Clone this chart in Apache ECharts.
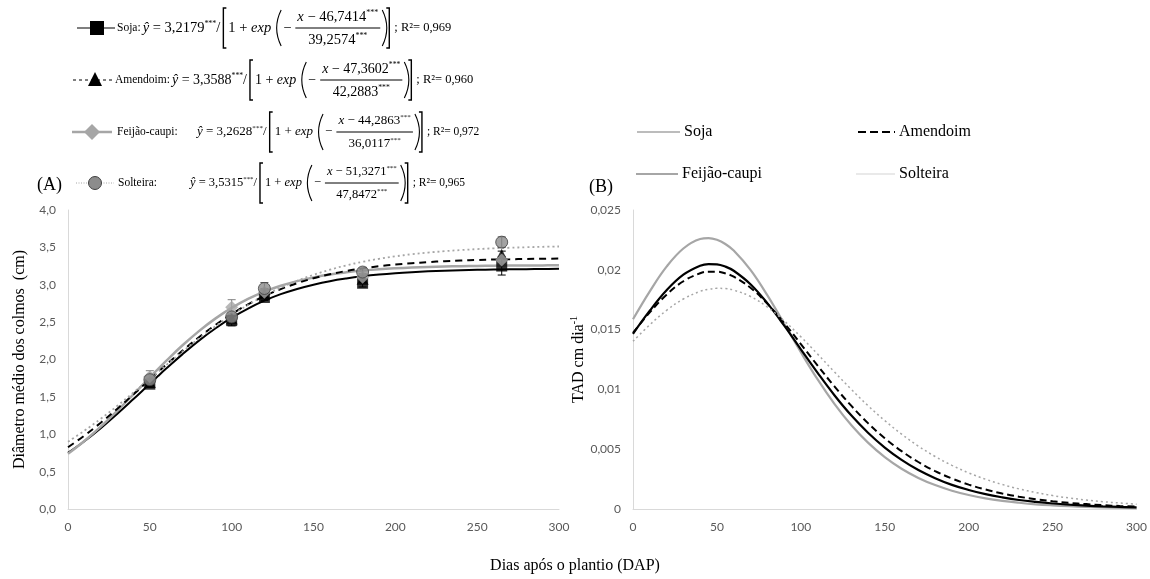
<!DOCTYPE html>
<html>
<head>
<meta charset="utf-8">
<script src="https://cdn.jsdelivr.net/npm/echarts@6/dist/echarts.min.js"></script>
<style>
  html, body { margin: 0; padding: 0; background: #fff; }
  #chart { width: 1150px; height: 579px; }
</style>
</head>
<body>
<div id="chart"></div>
<script>
// days on the x axis where the fitted curves were read
const X_DAYS = [0, 10, 20, 30, 40, 45, 50, 55, 60, 70, 80, 90, 100, 110, 120, 130, 140, 150,
  160, 170, 180, 190, 200, 210, 220, 230, 240, 250, 260, 270, 280, 290, 300]

// (A) fitted stem diameter, cm
const SOJA_FIT = [0.75, 0.906, 1.081, 1.271, 1.471, 1.573, 1.676, 1.778, 1.878, 2.072, 2.253, 2.415, 2.559, 2.682, 2.787, 2.874, 2.944, 3.001,
  3.048, 3.084, 3.113, 3.136, 3.154, 3.168, 3.179, 3.188, 3.195, 3.2, 3.204, 3.207, 3.209, 3.211, 3.213]
const AMENDOIM_FIT = [0.826, 0.982, 1.154, 1.339, 1.534, 1.633, 1.732, 1.831, 1.929, 2.119, 2.297, 2.461, 2.608, 2.737, 2.848, 2.942, 3.021, 3.086,
  3.14, 3.184, 3.219, 3.248, 3.27, 3.288, 3.303, 3.315, 3.324, 3.331, 3.337, 3.341, 3.345, 3.348, 3.35]
const FEIJAO_FIT = [0.738, 0.909, 1.101, 1.312, 1.535, 1.648, 1.761, 1.872, 1.982, 2.19, 2.38, 2.547, 2.69, 2.81, 2.908, 2.986, 3.049, 3.098,
  3.137, 3.166, 3.189, 3.207, 3.22, 3.23, 3.238, 3.244, 3.249, 3.252, 3.255, 3.257, 3.258, 3.259, 3.26]
const SOLTEIRA_FIT = [0.9, 1.047, 1.207, 1.378, 1.558, 1.649, 1.741, 1.833, 1.925, 2.106, 2.28, 2.443, 2.594, 2.73, 2.853, 2.96, 3.053, 3.133,
  3.201, 3.259, 3.307, 3.347, 3.38, 3.408, 3.43, 3.449, 3.464, 3.477, 3.487, 3.495, 3.502, 3.508, 3.512]

// (A) observed means and error half-lengths
const OBS_DAYS = [50, 100, 120, 180, 265]
const SOJA_OBS = [1.67, 2.52, 2.83, 3.02, 3.25]
const SOJA_ERR = [0.04, 0.07, 0.04, 0.05, 0.12]
const AMENDOIM_OBS = [1.7, 2.55, 2.88, 3.08, 3.4]
const AMENDOIM_ERR = [0.05, 0.05, 0.05, 0.05, 0.05]
const FEIJAO_OBS = [1.77, 2.7, 2.9, 3.1, 3.33]
const FEIJAO_ERR = [0.08, 0.1, 0.05, 0.05, 0.05]
const SOLTEIRA_OBS = [1.73, 2.57, 2.95, 3.17, 3.57]
const SOLTEIRA_ERR = [0.05, 0.05, 0.08, 0.05, 0.07]

// (B) growth rate, cm dia-1
const SOJA_TAD = [0.01465, 0.01658, 0.01829, 0.01959, 0.02034, 0.02048, 0.02046, 0.02027, 0.01992, 0.01879, 0.01721, 0.01535, 0.01335, 0.01138, 0.00951, 0.00783, 0.00638, 0.00514,
  0.00411, 0.00326, 0.00258, 0.00202, 0.00159, 0.00124, 0.00097, 0.00075, 0.00059, 0.00046, 0.00036, 0.00028, 0.00022, 0.00017, 0.00013]
const AMENDOIM_TAD = [0.01473, 0.01644, 0.01792, 0.01904, 0.01971, 0.01984, 0.01984, 0.0197, 0.01942, 0.0185, 0.01717, 0.01556, 0.01379, 0.01199, 0.01025, 0.00864, 0.00718, 0.00592,
  0.00484, 0.00393, 0.00317, 0.00255, 0.00204, 0.00163, 0.0013, 0.00103, 0.00082, 0.00065, 0.00051, 0.00041, 0.00032, 0.00025, 0.0002]
const FEIJAO_TAD = [0.01586, 0.0182, 0.02026, 0.02178, 0.02257, 0.02265, 0.02251, 0.02216, 0.02161, 0.01999, 0.01788, 0.01551, 0.01311, 0.01083, 0.00879, 0.00702, 0.00555, 0.00434,
  0.00337, 0.0026, 0.002, 0.00153, 0.00117, 0.00089, 0.00068, 0.00052, 0.00039, 0.0003, 0.00023, 0.00017, 0.00013, 0.0001, 0.00007]
const SOLTEIRA_TAD = [0.01402, 0.0154, 0.01661, 0.01756, 0.0182, 0.01837, 0.01845, 0.01843, 0.0183, 0.01777, 0.01689, 0.01574, 0.0144, 0.01295, 0.01146, 0.01001, 0.00864, 0.00739,
  0.00626, 0.00526, 0.00439, 0.00365, 0.00302, 0.00249, 0.00205, 0.00168, 0.00138, 0.00112, 0.00092, 0.00075, 0.00061, 0.0005, 0.0004]

// equation legend text
const EQ_LABELS = ['Soja:', 'Amendoim:', 'Feijão-caupi:', 'Solteira:']
const EQ_A = ['3,2179', '3,3588', '3,2628', '3,5315']
const EQ_B = ['46,7414', '47,3602', '44,2863', '51,3271']
const EQ_C = ['39,2574', '42,2883', '36,0117', '47,8472']
const EQ_R2 = ['0,969', '0,960', '0,972', '0,965']
const LEGEND_B = ['Soja', 'Amendoim', 'Feijão-caupi', 'Solteira']

const GRAY = '#a6a6a6'
const SERIF = '"Liberation Serif", "DejaVu Serif", serif'
const TICK_FONT = 'Lato'

// equation rows: centre line, label start, y-hat start, math size
const EQ_ROW_Y = [28, 80, 132, 183]
const EQ_LABEL_X = [117, 115, 117, 118]
const EQ_YHAT_X = [138, 167, 197, 190]
const EQ_SIZE = [14.5, 14, 13, 12.5]

const measure = document.createElement('canvas').getContext('2d')
function textWidth(str, size, italic) {
  measure.font = (italic ? 'italic ' : '') + size + 'px ' + SERIF
  return measure.measureText(str).width
}

function textEl(str, x, y, size, italic, align) {
  return {
    type: 'text', x, y,
    style: {
      text: str, fontFamily: SERIF, fontSize: size, fontStyle: italic ? 'italic' : 'normal',
      fill: '#000', verticalAlign: 'middle', align: align || 'left'
    }
  }
}

// pieces: [text, kind] kind: 'n' normal, 'i' italic, 's' superscript
function flow(els, pieces, x, y, size) {
  pieces.forEach(([str, kind]) => {
    const sz = kind === 's' ? size * 0.55 : size
    els.push(textEl(str, x, kind === 's' ? y - 4 : y, sz, kind === 'i'))
    x += textWidth(str, sz, kind === 'i')
  })
  return x
}
function piecesWidth(pieces, size) {
  return pieces.reduce((w, [str, kind]) => w + textWidth(str, kind === 's' ? size * 0.55 : size, kind === 'i'), 0)
}

function equation(i) {
  const cy = EQ_ROW_Y[i]
  const els = []
  const fs = EQ_SIZE[i]
  els.push(textEl(EQ_LABELS[i], EQ_LABEL_X[i], cy, 11.5))
  let x = Math.max(EQ_YHAT_X[i], EQ_LABEL_X[i] + textWidth(EQ_LABELS[i], 11.5) + 2)
  x = flow(els, [['ŷ', 'i'], [' = ' + EQ_A[i], 'n'], ['***', 's'], ['/', 'n']], x, cy, fs)
  x += 3
  const bracket = (bx, dir) => ({
    type: 'polyline',
    shape: { points: [[bx + 3 * dir, cy - 20], [bx, cy - 20], [bx, cy + 20], [bx + 3 * dir, cy + 20]] },
    style: { stroke: '#000', lineWidth: 1.4, fill: null }
  })
  els.push(bracket(x, 1))
  x += 5
  x = flow(els, [['1 + ', 'n'], ['exp', 'i']], x, cy, fs)
  x += 3
  const paren = (px, dir) => ({
    type: 'bezierCurve',
    shape: { x1: px, y1: cy - 18, x2: px, y2: cy + 18, cpx1: px - 9 * dir, cpy1: cy },
    style: { stroke: '#000', lineWidth: 1.1, fill: null }
  })
  els.push(paren(x + 7, 1))
  x += 9
  x = flow(els, [['−', 'n']], x, cy, fs)
  x += 4
  const num = [['x', 'i'], [' − ' + EQ_B[i], 'n'], ['***', 's']]
  const den = [[EQ_C[i], 'n'], ['***', 's']]
  const nw = piecesWidth(num, fs)
  const dw = piecesWidth(den, fs)
  const fw = Math.max(nw, dw) + 4
  flow(els, num, x + (fw - nw) / 2, cy - 11, fs)
  flow(els, den, x + (fw - dw) / 2, cy + 12, fs)
  els.push({ type: 'line', shape: { x1: x, y1: cy, x2: x + fw, y2: cy }, style: { stroke: '#000', lineWidth: 1 } })
  x += fw + 2
  els.push(paren(x, -1))
  x += 7
  els.push(bracket(x, -1))
  x += 5
  flow(els, [['; R²= ' + EQ_R2[i], 'n']], x, cy, fs < 14 ? 11.5 : 12.5)
  return els
}

function sampleMarker(i, cx, cy) {
  if (i === 0) return { type: 'rect', shape: { x: cx - 7, y: cy - 7, width: 14, height: 14 }, style: { fill: '#000' } }
  if (i === 1) return { type: 'polygon', shape: { points: [[cx, cy - 8], [cx + 7, cy + 6], [cx - 7, cy + 6]] }, style: { fill: '#000' } }
  if (i === 2) return { type: 'polygon', shape: { points: [[cx, cy - 8], [cx + 8, cy], [cx, cy + 8], [cx - 8, cy]] }, style: { fill: GRAY } }
  return { type: 'circle', shape: { cx, cy, r: 6.5 }, style: { fill: '#8c8c8c', stroke: '#404040', lineWidth: 1 } }
}

const SAMPLE_STYLE = [
  { stroke: '#000', lineWidth: 1.2 },
  { stroke: '#000', lineWidth: 1, lineDash: [3, 3] },
  { stroke: GRAY, lineWidth: 2.5 },
  { stroke: GRAY, lineWidth: 1, lineDash: [1, 1.5] }
]
const SAMPLE_X = [[77, 115, 97], [73, 113, 95], [72, 112, 92], [76, 114, 95]]

const graphics = []
EQ_LABELS.forEach((_, i) => {
  const cy = EQ_ROW_Y[i]
  const [x1, x2, mx] = SAMPLE_X[i]
  graphics.push({ type: 'line', shape: { x1, y1: cy, x2, y2: cy }, style: SAMPLE_STYLE[i] })
  graphics.push(sampleMarker(i, mx, cy))
  equation(i).forEach(e => graphics.push(e))
})
graphics.push(textEl('(A)', 37, 185, 18))
graphics.push(textEl('(B)', 589, 187, 18))

// legend of panel B, drawn as in the original figure
const LEG_B_POS = [[637, 680, 132], [858, 895, 132], [636, 678, 174], [856, 895, 174]]
const LEG_B_STYLE = [
  { stroke: GRAY, lineWidth: 1.5 },
  { stroke: '#000', lineWidth: 2.2, lineDash: [8, 4] },
  { stroke: GRAY, lineWidth: 2.2 },
  { stroke: '#c8c8c8', lineWidth: 0.8 }
]
LEGEND_B.forEach((name, i) => {
  const [x1, x2, y] = LEG_B_POS[i]
  graphics.push({ type: 'line', shape: { x1, y1: y, x2, y2: y }, style: LEG_B_STYLE[i] })
  graphics.push(textEl(name, x2 + 4, y, 16))
})
graphics.push(textEl('Dias após o plantio (DAP)', 575, 566, 16, false, 'center'))

const pairs = (xs, ys) => xs.map((x, k) => [x, ys[k]])

function fitLine(name, ys, color, width, type, xi, yi) {
  return {
    name, type: 'line', xAxisIndex: xi, yAxisIndex: yi,
    data: pairs(X_DAYS, ys), smooth: 0.4, showSymbol: false, silent: true, z: 2,
    lineStyle: { color, width, type }
  }
}

function errorBars(obs, err, color) {
  return {
    type: 'custom', xAxisIndex: 0, yAxisIndex: 0, silent: true, z: 3,
    data: OBS_DAYS.map((d, k) => [d, obs[k] - err[k], obs[k] + err[k]]),
    renderItem(params, api) {
      const lo = api.coord([api.value(0), api.value(1)])
      const hi = api.coord([api.value(0), api.value(2)])
      const style = { stroke: color, lineWidth: 1 }
      return {
        type: 'group',
        children: [
          { type: 'line', shape: { x1: lo[0], y1: lo[1], x2: hi[0], y2: hi[1] }, style },
          { type: 'line', shape: { x1: lo[0] - 4, y1: lo[1], x2: lo[0] + 4, y2: lo[1] }, style },
          { type: 'line', shape: { x1: hi[0] - 4, y1: hi[1], x2: hi[0] + 4, y2: hi[1] }, style }
        ]
      }
    }
  }
}

function points(obs, symbol, size, itemStyle, z) {
  return {
    type: 'scatter', xAxisIndex: 0, yAxisIndex: 0, silent: true, z,
    data: pairs(OBS_DAYS, obs), symbol, symbolSize: size, itemStyle
  }
}

const axisLabel = { color: '#595959', fontFamily: TICK_FONT, fontSize: 12 }
const axisLine = { show: true, lineStyle: { color: '#d9d9d9', width: 1 } }
const comma = (v, d) => (d == null ? String(+v.toFixed(3)) : v.toFixed(d)).replace('.', ',')

const chart = echarts.init(document.getElementById('chart'))
chart.setOption({
  animation: false,
  backgroundColor: '#fff',
  grid: [
    { left: 68, top: 210, width: 491, height: 299 },
    { left: 633, top: 210, width: 506, height: 299 }
  ],
  xAxis: [0, 1].map(g => ({
    type: 'value', gridIndex: g, min: 0, max: 300, interval: 50,
    axisLine, axisTick: { show: false }, splitLine: { show: false },
    axisLabel: { ...axisLabel, margin: 12 }
  })),
  yAxis: [
    {
      type: 'value', gridIndex: 0, min: 0, max: 4, interval: 0.5,
      axisLine, axisTick: { show: false }, splitLine: { show: false },
      axisLabel: { ...axisLabel, margin: 12, formatter: v => comma(v, 1) },
      name: 'Diâmetro médio dos colmos  (cm)', nameLocation: 'middle', nameGap: 40,
      nameTextStyle: { fontFamily: SERIF, fontSize: 16, color: '#000' }
    },
    {
      type: 'value', gridIndex: 1, min: 0, max: 0.025, interval: 0.005,
      axisLine, axisTick: { show: false }, splitLine: { show: false },
      axisLabel: { ...axisLabel, margin: 12, formatter: v => comma(v) },
      name: 'TAD cm dia{sup|-1}', nameLocation: 'middle', nameGap: 20,
      nameTextStyle: {
        fontFamily: SERIF, fontSize: 16, color: '#000',
        rich: { sup: { fontFamily: SERIF, fontSize: 10, color: '#000', verticalAlign: 'top', padding: [0, 0, 8, 0] } }
      }
    }
  ],
  graphic: graphics,
  series: [
    fitLine('Soja', SOJA_FIT, '#000', 2, 'solid', 0, 0),
    fitLine('Feijão-caupi', FEIJAO_FIT, GRAY, 2.5, 'solid', 0, 0),
    fitLine('Amendoim', AMENDOIM_FIT, '#000', 2, [7, 5], 0, 0),
    fitLine('Solteira', SOLTEIRA_FIT, GRAY, 1.8, [2, 3], 0, 0),
    errorBars(SOJA_OBS, SOJA_ERR, '#000'),
    errorBars(AMENDOIM_OBS, AMENDOIM_ERR, '#000'),
    errorBars(FEIJAO_OBS, FEIJAO_ERR, '#7f7f7f'),
    errorBars(SOLTEIRA_OBS, SOLTEIRA_ERR, '#595959'),
    points(SOJA_OBS, 'rect', 11, { color: '#000' }, 4),
    points(AMENDOIM_OBS, 'triangle', 12, { color: '#000' }, 5),
    points(FEIJAO_OBS, 'diamond', 13, { color: GRAY }, 6),
    points(SOLTEIRA_OBS, 'circle', 12, { color: '#8c8c8c', borderColor: '#404040', borderWidth: 1 }, 7),
    fitLine('Feijão-caupi', FEIJAO_TAD, GRAY, 2.2, 'solid', 1, 1),
    fitLine('Soja', SOJA_TAD, '#000', 2.2, 'solid', 1, 1),
    fitLine('Amendoim', AMENDOIM_TAD, '#000', 2, [7, 4], 1, 1),
    fitLine('Solteira', SOLTEIRA_TAD, GRAY, 1.5, [2, 3], 1, 1)
  ]
})
</script>
</body>
</html>
